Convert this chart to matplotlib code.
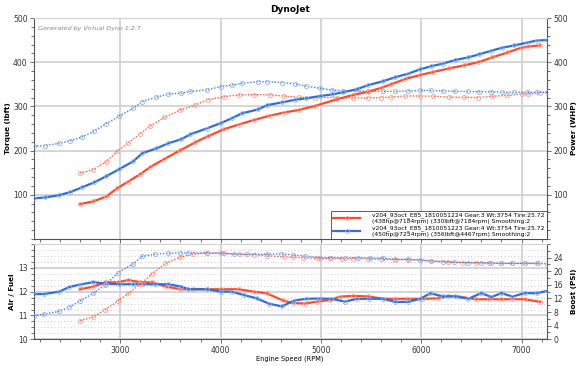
import matplotlib
matplotlib.use("Agg")
import matplotlib.pyplot as plt
from matplotlib.ticker import MultipleLocator

# run 1 (gear 3) - red
red_rpm = [2600, 2730, 2860, 2970, 3080, 3200, 3300, 3440, 3600, 3750, 3870, 4030,
           4180, 4330, 4490, 4630, 4780, 4940, 5160, 5320, 5470, 5600, 5700, 5840,
           5990, 6120, 6280, 6430, 6570, 6710, 6860, 7000, 7060, 7184]
red_tq = [149, 157, 175, 198, 218, 238, 256, 275, 292, 303, 315, 322,
          326, 326.5, 326.5, 323.5, 320.5, 320, 320, 319, 319, 320, 321, 323.5,
          323.5, 323, 321, 320.5, 320, 323, 325, 328, 328.5, 330]
red_hp = [79, 85, 96, 115, 130, 147, 163, 181, 201, 219, 232, 248,
          259, 269, 279, 286, 292, 301, 316, 326, 333, 342, 350, 362,
          371, 378, 386, 393, 400, 411, 422, 433, 435, 438]

# run 2 (gear 4) - blue
blue_rpm = [2140, 2250, 2390, 2500, 2620, 2740, 2860, 2990, 3130, 3220, 3360, 3480,
            3610, 3700, 3860, 4000, 4110, 4210, 4370, 4467, 4610, 4740, 4850, 4990,
            5110, 5220, 5360, 5470, 5620, 5740, 5870, 5990, 6100, 6220, 6340, 6470,
            6580, 6700, 6810, 6930, 7050, 7150, 7254]
blue_tq = [210, 211, 216.5, 222, 231, 244, 261, 278, 296, 311, 321, 328,
           330, 334, 337, 345, 348, 352, 356, 356, 354, 351, 346, 341,
           337, 335, 335, 334, 334, 334, 335, 336, 336, 335, 334, 334,
           333, 333, 332, 332, 332, 332, 332]
blue_hp = [92, 94, 99, 106, 117, 128, 142, 158, 176, 194, 205, 216.5,
           226, 237, 250, 262, 273, 284, 293, 303, 309, 315, 318, 323.5,
           327, 332, 339, 348, 357, 366, 374, 384, 391, 397, 405, 411,
           418, 426, 433, 438, 444, 449, 450]

# air/fuel
red_afr_rpm = [2600, 2730, 2850, 2980, 3080, 3200, 3320, 3460, 3600, 3730, 3860, 4000,
               4180, 4330, 4460, 4620, 4720, 4840, 4960, 5090, 5190, 5320, 5470, 5620,
               5740, 5870, 6020, 6170, 6270, 6380, 6550, 6680, 6800, 6910, 7030, 7184]
red_afr = [12.1, 12.21, 12.39, 12.39, 12.49, 12.39, 12.39, 12.21, 12.1, 12.1, 12.1, 12.1,
           12.1, 12.0, 11.93, 11.63, 11.52, 11.5, 11.58, 11.65, 11.79, 11.82, 11.8, 11.7,
           11.7, 11.7, 11.7, 11.72, 11.82, 11.79, 11.68, 11.68, 11.68, 11.68, 11.68, 11.57]
blue_afr_rpm = [2140, 2240, 2390, 2490, 2600, 2730, 2860, 2990, 3130, 3230, 3350, 3480,
                3610, 3680, 3860, 4000, 4110, 4230, 4360, 4480, 4610, 4730, 4850, 4980,
                5100, 5240, 5360, 5480, 5620, 5740, 5870, 5990, 6090, 6220, 6340, 6470,
                6600, 6700, 6800, 6910, 7030, 7150, 7250]
blue_afr = [11.9, 11.9, 12.0, 12.19, 12.3, 12.4, 12.33, 12.31, 12.31, 12.31, 12.31, 12.31,
            12.21, 12.1, 12.1, 12.0, 12.0, 11.86, 11.72, 11.5, 11.38, 11.62, 11.7, 11.71,
            11.7, 11.58, 11.7, 11.7, 11.7, 11.57, 11.57, 11.7, 11.93, 11.8, 11.8, 11.7,
            11.94, 11.77, 11.94, 11.79, 11.94, 11.93, 12.03]

# boost
red_boost_rpm = [2600, 2730, 2850, 2980, 3080, 3200, 3320, 3450, 3600, 3730, 3860, 4030,
                 4180, 4330, 4460, 4630, 4720, 4820, 4960, 5090, 5210, 5320, 5470, 5600,
                 5740, 5870, 5990, 6100, 6270, 6420, 6550, 6680, 6800, 6910, 7030, 7163]
red_boost = [5.5, 6.6, 8.7, 11.3, 13.5, 16.2, 19.3, 22.3, 24.2, 25.0, 25.35, 25.35,
             25.0, 24.8, 24.6, 24.2, 24.1, 24.0, 23.8, 23.8, 23.7, 23.7, 23.7, 23.5,
             23.4, 23.4, 23.3, 23.0, 22.7, 22.5, 22.5, 22.3, 22.3, 22.3, 22.3, 22.3]
blue_boost_rpm = [2140, 2240, 2390, 2490, 2600, 2730, 2850, 2980, 3130, 3220, 3350, 3480,
                  3600, 3680, 3860, 4000, 4130, 4260, 4460, 4600, 4720, 4840, 4990, 5100,
                  5240, 5370, 5490, 5620, 5740, 5870, 5990, 6100, 6220, 6330, 6470, 6600,
                  6700, 6800, 6910, 7030, 7150, 7250]
blue_boost = [6.9, 7.4, 8.2, 9.4, 11.3, 13.5, 16.0, 19.6, 22.2, 24.4, 25.0, 25.3,
              25.35, 25.4, 25.35, 25.3, 25.0, 25.0, 25.0, 25.1, 24.8, 24.5, 24.0, 24.0,
              24.0, 24.0, 23.9, 23.8, 23.5, 23.5, 23.3, 23.0, 22.8, 22.7, 22.5, 22.5,
              22.5, 22.3, 22.3, 22.3, 22.3, 22.2]

red_label = ("v204_93oct_E85_1810051224 Gear:3 Wt:3754 Tire:25.72\n"
             "(438hp@7184rpm) (330lbft@7184rpm) Smoothing:2")
blue_label = ("v204_93oct_E85_1810051223 Gear:4 Wt:3754 Tire:25.72\n"
              "(450hp@7254rpm) (356lbft@4467rpm) Smoothing:2")

RED = "#ff4b2b"
BLUE = "#2f6fd8"
RED_LIGHT = "#ffa494"
BLUE_LIGHT = "#93b4ee"
GRID = "#d2d2d2"
XMIN, XMAX = 2140, 7254

fig = plt.figure(figsize=(5.8, 3.66), dpi=100)
ax1 = fig.add_axes([0.0586, 0.347, 0.8845, 0.6038])
ax2 = fig.add_axes([0.0586, 0.073, 0.8845, 0.2603])


def solid(ax, x, y, c, mc, label=None):
    ax.plot(x, y, color=c, lw=1.6, marker="o", ms=2.8, mfc="none",
            mec=mc, mew=0.6, label=label, zorder=3)


def dotted(ax, x, y, c, mc):
    ax.plot(x, y, color=c, lw=1.0, ls=(0, (1, 1.2)), marker="o", ms=3.0,
            mfc="none", mec=mc, mew=0.7, alpha=0.9, zorder=3)


def ticks(ax):
    ax.tick_params(which="both", direction="out", colors="#555555",
                   labelcolor="#333333", labelsize=5.5, width=0.6, pad=1.5)
    ax.tick_params(which="major", length=3)
    ax.tick_params(which="minor", length=2)


def style(ax):
    for s in ax.spines.values():
        s.set_color("#555555")
        s.set_linewidth(0.8)
    ax.spines["top"].set_color(GRID)
    ax.set_xlim(XMIN, XMAX)
    ax.xaxis.set_major_locator(MultipleLocator(1000))
    ax.xaxis.set_minor_locator(MultipleLocator(200))
    ticks(ax)
    ax.grid(True, which="major", color=GRID, lw=1.3)
    ax.set_axisbelow(True)


# top panel: torque / power (both 0-500)
style(ax1)
ax1.set_ylim(0, 500)
ax1.yaxis.set_minor_locator(MultipleLocator(20))
ax1.set_yticks([100, 200, 300, 400, 500])
ax1.tick_params(axis="x", labelbottom=False)
ax1.tick_params(axis="y", which="both", right=True, labelright=True)

dotted(ax1, red_rpm, red_tq, RED, RED_LIGHT)
dotted(ax1, blue_rpm, blue_tq, BLUE, BLUE_LIGHT)
solid(ax1, red_rpm, red_hp, RED, RED_LIGHT, red_label)
solid(ax1, blue_rpm, blue_hp, BLUE, BLUE_LIGHT, blue_label)

ax1.text(0.008, 0.965, "Generated by Virtual Dyno 1.2.7", transform=ax1.transAxes,
         fontsize=4.6, style="italic", color="#888888", va="top")
leg = ax1.legend(loc="lower right", fontsize=4.3, frameon=True, fancybox=False,
                 borderaxespad=0, handlelength=4.6, labelspacing=0.2,
                 borderpad=0.35, handletextpad=2.0)
leg.get_frame().set_edgecolor("#333333")
leg.get_frame().set_linewidth(0.7)

fig.text(0.5, 0.975, "DynoJet", ha="center", va="center", fontsize=6.5,
         fontweight="bold")
fig.text(0.014, 0.649, "Torque (lbft)", rotation=90, ha="center", va="center",
         fontsize=5.2, fontweight="bold")
fig.text(0.99, 0.649, "Power (WHP)", rotation=90, ha="center", va="center",
         fontsize=5.2, fontweight="bold")

# bottom panel: air/fuel and boost
style(ax2)
ax2.set_ylim(10, 14)
ax2.set_yticks([10, 11, 12, 13])
ax2.yaxis.set_minor_locator(MultipleLocator(0.25))
ax2.grid(True, which="minor", axis="y", color="#bdbdbd", lw=0.6, ls=(0, (1, 3)))

solid(ax2, red_afr_rpm, red_afr, RED, RED_LIGHT)
solid(ax2, blue_afr_rpm, blue_afr, BLUE, BLUE_LIGHT)

ax3 = ax2.twinx()
ax3.set_xlim(XMIN, XMAX)
ax3.set_ylim(0, 28)
ax3.set_yticks([0, 4, 8, 12, 16, 20, 24])
ax3.yaxis.set_minor_locator(MultipleLocator(2))
ticks(ax3)
for s in ax3.spines.values():
    s.set_visible(False)
dotted(ax3, red_boost_rpm, red_boost, RED, RED_LIGHT)
dotted(ax3, blue_boost_rpm, blue_boost, BLUE, BLUE_LIGHT)

fig.text(0.02, 0.203, "Air / Fuel", rotation=90, ha="center", va="center",
         fontsize=5.2, fontweight="bold")
fig.text(0.99, 0.203, "Boost (PSI)", rotation=90, ha="center", va="center",
         fontsize=5.2, fontweight="bold")
fig.text(0.5, 0.02, "Engine Speed (RPM)", ha="center", va="center", fontsize=4.8)

fig.savefig("out.png", dpi=100)
